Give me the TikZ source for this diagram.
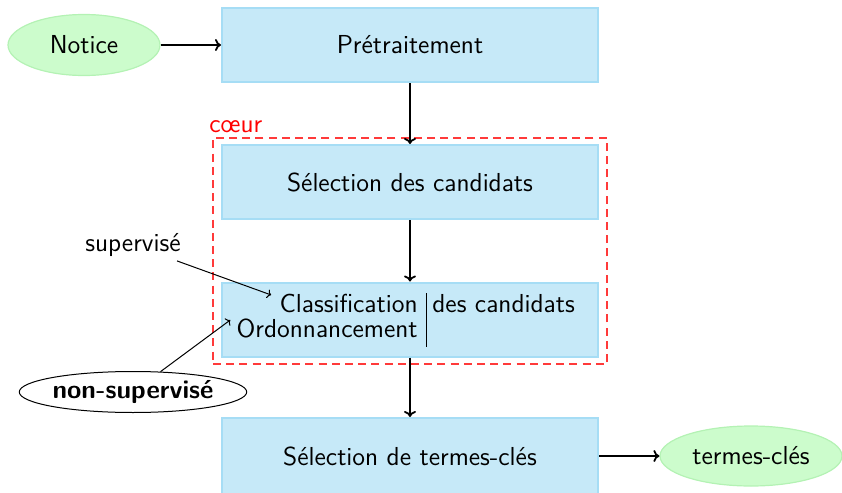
\documentclass[tikz,border=0pt]{standalone}
\usetikzlibrary{shapes.geometric,arrows.meta}
\definecolor{boxfill}{HTML}{C6E9F8}
\definecolor{boxline}{HTML}{A6DDF5}
\definecolor{ovalfill}{HTML}{CCFCCC}
\definecolor{ovalline}{HTML}{B4F2B4}
\definecolor{corered}{HTML}{FF3A3A}
\tikzset{
  base/.style={font=\sffamily\fontsize{13}{15.5}\selectfont, text=black},
  stage/.style={base, rectangle, draw=boxline, line width=1pt, fill=boxfill,
    minimum width=188pt, minimum height=37pt, inner sep=0pt},
  terminal/.style={base, ellipse, draw=ovalline, line width=0.6pt, fill=ovalfill,
    inner sep=0pt},
  flow/.style={line width=0.9pt, -{To[length=3pt,width=6pt]}},
  hint/.style={line width=0.5pt, -{To[length=2pt,width=4.5pt]}},
  word/.style={base, inner sep=0pt, anchor=base}
}
\begin{document}
\begin{tikzpicture}[x=0.5pt, y=-0.5pt]
\useasboundingbox (0,0) rectangle (842,493);
\clip (0,0) rectangle (842,493);

% core region around candidate selection and ranking
\node[draw=corered, line width=0.55pt, dash pattern=on 4pt off 2.6pt,
  minimum width=197pt, minimum height=113pt, inner sep=0pt] (core) at (410,251) {};
\node[word, text=red, anchor=base west] (corelabel) at (209,132) {cœur};

% main pipeline
\node[terminal, minimum width=76pt, minimum height=30.5pt] (notice) at (84,45) {Notice};
\node[stage] (pre) at (410,45) {Prétraitement};
\node[stage] (sel) at (410,182) {Sélection des candidats};
\node[stage] (cls) at (410,319.5) {};
\node[stage, minimum height=38pt] (kw) at (410,456) {Sélection de termes-clés};
\node[terminal, minimum width=91pt, minimum height=30pt] (out) at (751,456) {termes-clés};

% two-row label inside the classification stage
\node[word, anchor=base east] (clsA) at (418,312) {Classification};
\node[word, anchor=base east] (clsB) at (418,337) {Ordonnancement};
\node[word, anchor=base west] (clsC) at (432,312) {des candidats};
\coordinate (barTop) at (426,293);
\coordinate (barBot) at (426,347);
\draw[line width=0.5pt] (barTop) -- (barBot);

% side annotations
\node[base, inner sep=2pt] (sup) at (133,245) {supervisé};
\node[base, ellipse, draw, line width=0.5pt, font=\sffamily\bfseries\fontsize{13}{15.5}\selectfont,
  minimum width=110pt, minimum height=20.5pt, inner sep=0pt] (nonsup) at (133,392) {non-supervisé};

% connectors
\draw[flow] (notice) -- (pre);
\draw[flow] (pre) -- (sel);
\draw[flow] (sel) -- (cls);
\draw[flow] (cls) -- (kw);
\draw[flow] (kw) -- (out);
\draw[hint] (sup) -- ([xshift=-4pt,yshift=4pt]clsA.west);
\draw[hint] (nonsup) -- ([xshift=-3pt,yshift=4pt]clsB.west);
\end{tikzpicture}
\end{document}
